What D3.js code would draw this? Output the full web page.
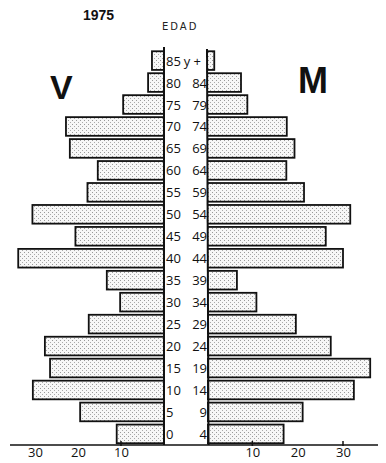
<!DOCTYPE html>
<html>
<head>
<meta charset="utf-8">
<script src="https://cdn.jsdelivr.net/npm/d3@7"></script>
<style>
  html, body { margin: 0; padding: 0; background: #fff; }
  svg { display: block; }
</style>
</head>
<body>
<svg id="chart"></svg>
<script>
// grupos de edad (de arriba a abajo)
const ages = ['85', '80', '75', '70', '65', '60', '55', '50', '45', '40', '35', '30', '25', '20', '15', '10', '5', '0'];
const leftLabels = ['85', '80', '75', '70', '65', '60', '55', '50', '45', '40', '35', '30', '25', '20', '15', '10', '5', '0'];
const rightLabels = ['y +', '84', '79', '74', '69', '64', '59', '54', '49', '44', '39', '34', '29', '24', '19', '14', '9', '4'];
// varones (V) y mujeres (M)
const varones = [2.8, 3.7, 9.5, 22.8, 21.9, 15.4, 17.8, 30.6, 20.6, 33.9, 13.3, 10.2, 17.5, 27.7, 26.5, 30.5, 19.5, 11];
const mujeres = [1.6, 7.5, 8.9, 17.6, 19.3, 17.5, 21.4, 31.6, 26.2, 30, 6.6, 10.9, 19.6, 27.3, 36, 32.4, 21.1, 16.9];
const ticks = [10, 20, 30];

const width = 386;
const height = 463;
const axisL = 164;
const axisR = 207;
const baseY = 445;

const svg = d3.select('#chart')
  .attr('width', width)
  .attr('height', height);

// trama punteada
const defs = svg.append('defs');
const pat = defs.append('pattern')
  .attr('id', 'dots')
  .attr('width', 4)
  .attr('height', 4)
  .attr('patternUnits', 'userSpaceOnUse');
pat.append('rect').attr('width', 4).attr('height', 4).attr('fill', '#f7f7f7');
pat.append('rect').attr('x', 0).attr('y', 0).attr('width', 1).attr('height', 1).attr('fill', '#999');
pat.append('rect').attr('x', 2).attr('y', 2).attr('width', 1).attr('height', 1).attr('fill', '#aaa');

// escalas
const xL = d3.scaleLinear().domain([0, 30]).range([axisL, 35]);
const xR = d3.scaleLinear().domain([0, 30]).range([axisR, 343]);
const y = d3.scaleBand()
  .domain(ages)
  .range([49.5, baseY])
  .paddingInner(0.15)
  .paddingOuter(0.08);

// barras varones
svg.selectAll('.bar-v')
  .data(ages)
  .enter()
  .append('rect')
  .attr('class', 'bar-v')
  .attr('x', (d, i) => xL(varones[i]))
  .attr('y', d => y(d))
  .attr('width', (d, i) => axisL - xL(varones[i]))
  .attr('height', y.bandwidth())
  .attr('fill', 'url(#dots)')
  .attr('stroke', '#111')
  .attr('stroke-width', 1.8);

// barras mujeres
svg.selectAll('.bar-m')
  .data(ages)
  .enter()
  .append('rect')
  .attr('class', 'bar-m')
  .attr('x', axisR)
  .attr('y', d => y(d))
  .attr('width', (d, i) => xR(mujeres[i]) - axisR)
  .attr('height', y.bandwidth())
  .attr('fill', 'url(#dots)')
  .attr('stroke', '#111')
  .attr('stroke-width', 1.8);

// columna central
svg.append('rect')
  .attr('x', axisL)
  .attr('y', 47)
  .attr('width', axisR - axisL)
  .attr('height', baseY - 47)
  .attr('fill', '#fff');

svg.append('line')
  .attr('x1', axisL).attr('x2', axisL)
  .attr('y1', 47).attr('y2', baseY)
  .attr('stroke', '#111').attr('stroke-width', 2);
svg.append('line')
  .attr('x1', axisR).attr('x2', axisR + 1.5)
  .attr('y1', 49).attr('y2', baseY)
  .attr('stroke', '#111').attr('stroke-width', 2);

// etiquetas de edad
svg.selectAll('.lab-l')
  .data(ages)
  .enter()
  .append('text')
  .attr('class', 'lab-l')
  .attr('x', axisL + 2)
  .attr('y', d => y(d) + y.bandwidth() / 2 + 5)
  .style('font-family', '"Open Sans", sans-serif')
  .style('font-size', '13px')
  .style('fill', '#111')
  .text((d, i) => leftLabels[i]);

svg.selectAll('.lab-r')
  .data(ages)
  .enter()
  .append('text')
  .attr('class', 'lab-r')
  .attr('x', (d, i) => i === 0 ? axisR - 6 : axisR)
  .attr('y', d => y(d) + y.bandwidth() / 2 + 5)
  .attr('text-anchor', 'end')
  .style('font-family', '"Open Sans", sans-serif')
  .style('font-size', '13px')
  .style('fill', '#111')
  .text((d, i) => rightLabels[i]);

// eje inferior
svg.append('line')
  .attr('x1', 10).attr('x2', 378)
  .attr('y1', baseY).attr('y2', baseY)
  .attr('stroke', '#111').attr('stroke-width', 1.5);

const axisLeft = svg.append('g')
  .attr('transform', `translate(0,${baseY})`)
  .call(d3.axisBottom(xL).tickValues(ticks).tickSize(0).tickPadding(3));
const axisRight = svg.append('g')
  .attr('transform', `translate(0,${baseY})`)
  .call(d3.axisBottom(xR).tickValues(ticks).tickSize(0).tickPadding(3));

[axisLeft, axisRight].forEach(ax => {
  ax.select('.domain').remove();
  ax.selectAll('text')
    .style('font-family', '"Open Sans", sans-serif')
    .style('font-size', '13px')
    .style('fill', '#111');
});

// pequeñas marcas
[[xL, 10], [xR, 10], [xR, 30]].forEach(([sc, v]) => {
  svg.append('line')
    .attr('x1', sc(v)).attr('x2', sc(v))
    .attr('y1', baseY - 4).attr('y2', baseY + 1)
    .attr('stroke', '#111').attr('stroke-width', 1.5);
});

// títulos
svg.append('text')
  .attr('x', 83).attr('y', 20)
  .style('font-family', '"Liberation Sans", Arial, sans-serif')
  .style('font-weight', 'bold')
  .style('font-size', '14px')
  .style('fill', '#111')
  .text('1975');

svg.append('text')
  .attr('x', 162).attr('y', 30)
  .style('font-family', '"DejaVu Sans", sans-serif')
  .style('font-size', '10px')
  .style('letter-spacing', '2px')
  .style('fill', '#222')
  .text('EDAD');

svg.append('text')
  .attr('x', 50).attr('y', 99)
  .style('font-family', '"Liberation Sans", Arial, sans-serif')
  .style('font-weight', 'bold')
  .style('font-size', '34px')
  .style('fill', '#111')
  .text('V');

svg.append('text')
  .attr('x', 298).attr('y', 93)
  .style('font-family', '"Liberation Sans", Arial, sans-serif')
  .style('font-weight', 'bold')
  .style('font-size', '36px')
  .style('fill', '#111')
  .text('M');
</script>
</body>
</html>
